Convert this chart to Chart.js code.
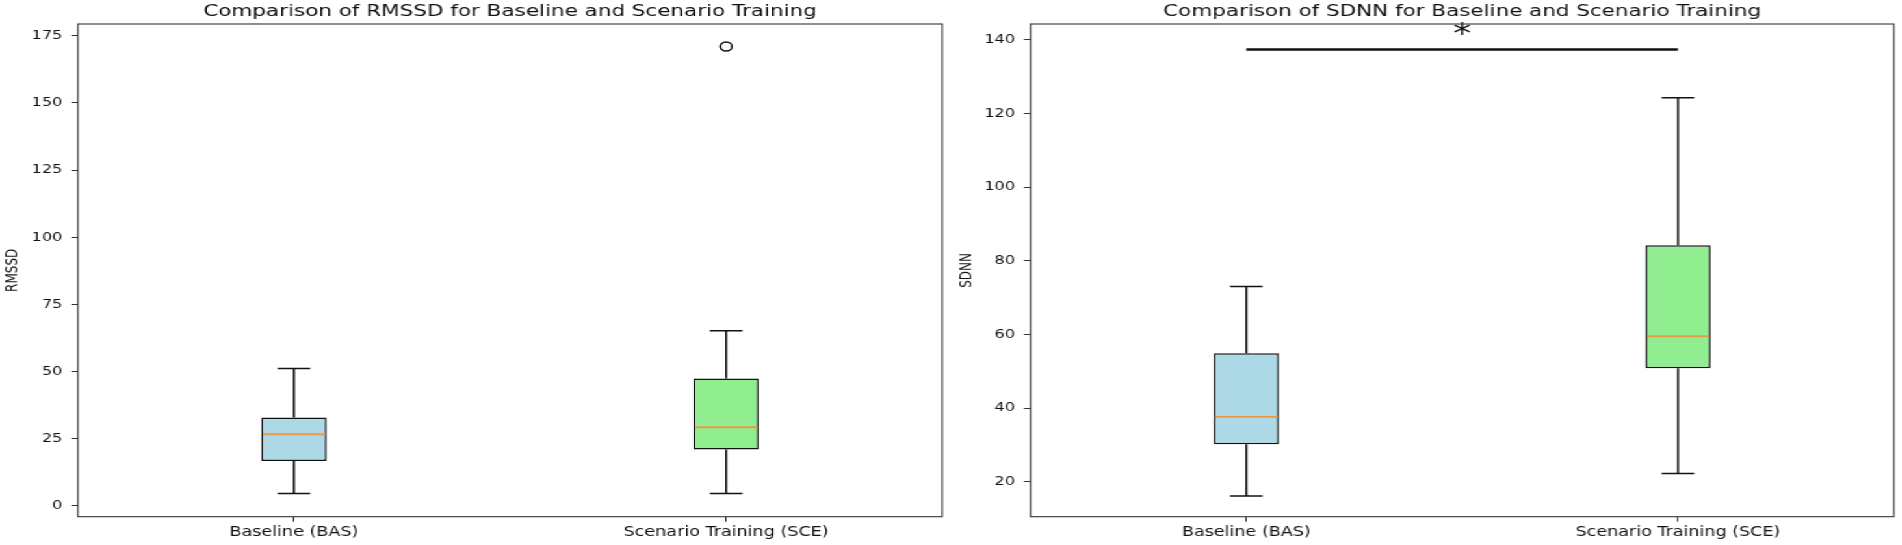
<!DOCTYPE html>
<html>
<head>
<meta charset="utf-8">
<script src="https://cdn.jsdelivr.net/npm/chart.js@4.4.1/dist/chart.umd.min.js"></script>
<style>
html, body { margin: 0; padding: 0; background: #fff; overflow: hidden; }
/* the source figure is stretched sideways, so draw narrow and widen */
#wrap { width: 1463px; height: 545px; display: flex; transform: scaleX(1.3); transform-origin: 0 0; }
.panel { position: relative; width: 731.5px; height: 545px; }
</style>
</head>
<body>
<div id="wrap">
  <div class="panel"><canvas id="rmssdChart"></canvas></div>
  <div class="panel"><canvas id="sdnnChart"></canvas></div>
</div>
<script>
var groups = ["Baseline (BAS)", "Scenario Training (SCE)"];
var boxColors = ["#ADD8E6", "#90EE90"];

// RMSSD box stats per group
var rmssdLow = [4.6, 4.6];
var rmssdQ1 = [16.7, 21.0];
var rmssdMedian = [26.7, 29.3];
var rmssdQ3 = [32.9, 47.4];
var rmssdHigh = [51.2, 65.2];
var rmssdOutliers = [[], [171.0]];
var rmssdTicks = [0, 25, 50, 75, 100, 125, 150, 175];

// SDNN box stats per group
var sdnnLow = [16.1, 22.2];
var sdnnQ1 = [30.2, 50.8];
var sdnnMedian = [37.6, 59.5];
var sdnnQ3 = [54.9, 84.2];
var sdnnHigh = [73.0, 124.3];
var sdnnOutliers = [[], []];
var sdnnTicks = [20, 40, 60, 80, 100, 120, 140];
var sdnnSigLine = 137.4;
var sdnnStar = 139.1;

Chart.defaults.font.family = "'DejaVu Sans', sans-serif";
Chart.defaults.color = "#111";

function boxPlugin(low, median, high, sig) {
    return {
        id: "boxExtras",
        afterDatasetsDraw: function (chart) {
            var ctx = chart.ctx;
            var y = chart.scales.y;
            var bars = chart.getDatasetMeta(0).data;
            ctx.save();
            ctx.strokeStyle = "#111";
            ctx.lineWidth = 1.5;
            bars.forEach(function (bar, i) {
                var half = bar.width / 2;
                var yLow = y.getPixelForValue(low[i]);
                var yHigh = y.getPixelForValue(high[i]);
                ctx.beginPath();
                // whiskers
                ctx.moveTo(bar.x, bar.base);
                ctx.lineTo(bar.x, yLow);
                ctx.moveTo(bar.x, bar.y);
                ctx.lineTo(bar.x, yHigh);
                // caps
                ctx.moveTo(bar.x - half / 2, yLow);
                ctx.lineTo(bar.x + half / 2, yLow);
                ctx.moveTo(bar.x - half / 2, yHigh);
                ctx.lineTo(bar.x + half / 2, yHigh);
                ctx.stroke();
            });
            // medians
            ctx.strokeStyle = "#E99A45";
            ctx.lineWidth = 1.9;
            bars.forEach(function (bar, i) {
                var half = bar.width / 2 - 1.2;
                var ym = y.getPixelForValue(median[i]);
                ctx.beginPath();
                ctx.moveTo(bar.x - half, ym);
                ctx.lineTo(bar.x + half, ym);
                ctx.stroke();
            });
            if (sig) {
                var ys = y.getPixelForValue(sig.line);
                ctx.strokeStyle = "#111";
                ctx.lineWidth = 2.5;
                ctx.beginPath();
                ctx.moveTo(bars[0].x, ys);
                ctx.lineTo(bars[1].x, ys);
                ctx.stroke();
                ctx.fillStyle = "#111";
                ctx.font = "28px 'DejaVu Sans'";
                ctx.textAlign = "center";
                ctx.textBaseline = "alphabetic";
                ctx.fillText("*", (bars[0].x + bars[1].x) / 2, y.getPixelForValue(sig.star));
            }
            ctx.restore();
        },
        afterDraw: function (chart) {
            var a = chart.chartArea;
            var ctx = chart.ctx;
            ctx.save();
            ctx.strokeStyle = "#333";
            ctx.lineWidth = 1.1;
            ctx.strokeRect(a.left, a.top, a.right - a.left, a.bottom - a.top);
            ctx.restore();
        }
    };
}

function makeBoxChart(id, title, yLabel, q1, q3, outliers, ticks, yMin, yMax, yWidth, padRight, titlePad, plugin) {
    var outlierPoints = [];
    outliers.forEach(function (list, i) {
        list.forEach(function (v) { outlierPoints.push({ x: groups[i], y: v }); });
    });
    return new Chart(id, {
        type: "bar",
        data: {
            labels: groups,
            datasets: [{
                data: groups.map(function (g, i) { return [q1[i], q3[i]]; }),
                backgroundColor: boxColors,
                borderColor: "#111",
                borderWidth: 1.5,
                borderSkipped: false,
                barPercentage: 0.151,
                categoryPercentage: 1
            }, {
                type: "line",
                data: outlierPoints,
                showLine: false,
                pointRadius: 4.5,
                pointBorderWidth: 1.5,
                pointBorderColor: "#111",
                pointBackgroundColor: "rgba(0,0,0,0)"
            }]
        },
        options: {
            responsive: true,
            maintainAspectRatio: false,
            animation: false,
            events: [],
            layout: { padding: { left: 0, right: padRight, top: 0, bottom: 0 } },
            plugins: {
                legend: { display: false },
                tooltip: { enabled: false },
                title: {
                    display: true,
                    text: title,
                    fullSize: false,
                    color: "#111",
                    font: { size: 16.5, weight: "normal" },
                    padding: { top: 1.6, bottom: 2.6 }
                }
            },
            scales: {
                x: {
                    offset: true,
                    grid: { display: true, offset: false, drawOnChartArea: false, drawTicks: true, tickLength: 5, color: "#333" },
                    border: { display: false },
                    ticks: { font: { size: 13.5 }, color: "#111", padding: 3 },
                    afterFit: function (s) { s.height = 28.3; }
                },
                y: {
                    min: yMin,
                    max: yMax,
                    grid: { display: true, drawOnChartArea: false, drawTicks: true, tickLength: 5, color: "#333" },
                    border: { display: false },
                    ticks: { font: { size: 12.3 }, color: "#111", padding: 7 },
                    title: { display: true, text: yLabel, color: "#111", font: { size: 12 }, padding: { top: titlePad, bottom: 0 } },
                    afterBuildTicks: function (s) { s.ticks = ticks.map(function (v) { return { value: v }; }); },
                    afterFit: function (s) { s.width = yWidth; }
                }
            }
        },
        plugins: [plugin]
    });
}

makeBoxChart("rmssdChart", "Comparison of RMSSD for Baseline and Scenario Training", "RMSSD",
    rmssdQ1, rmssdQ3, rmssdOutliers, rmssdTicks, -4.0, 179.4, 59.8, 7.7, 3,
    boxPlugin(rmssdLow, rmssdMedian, rmssdHigh, null));

makeBoxChart("sdnnChart", "Comparison of SDNN for Baseline and Scenario Training", "SDNN",
    sdnnQ1, sdnnQ3, sdnnOutliers, sdnnTicks, 10.5, 144.3, 60.7, 6.7, 4.2,
    boxPlugin(sdnnLow, sdnnMedian, sdnnHigh, { line: sdnnSigLine, star: sdnnStar }));
</script>
</body>
</html>
